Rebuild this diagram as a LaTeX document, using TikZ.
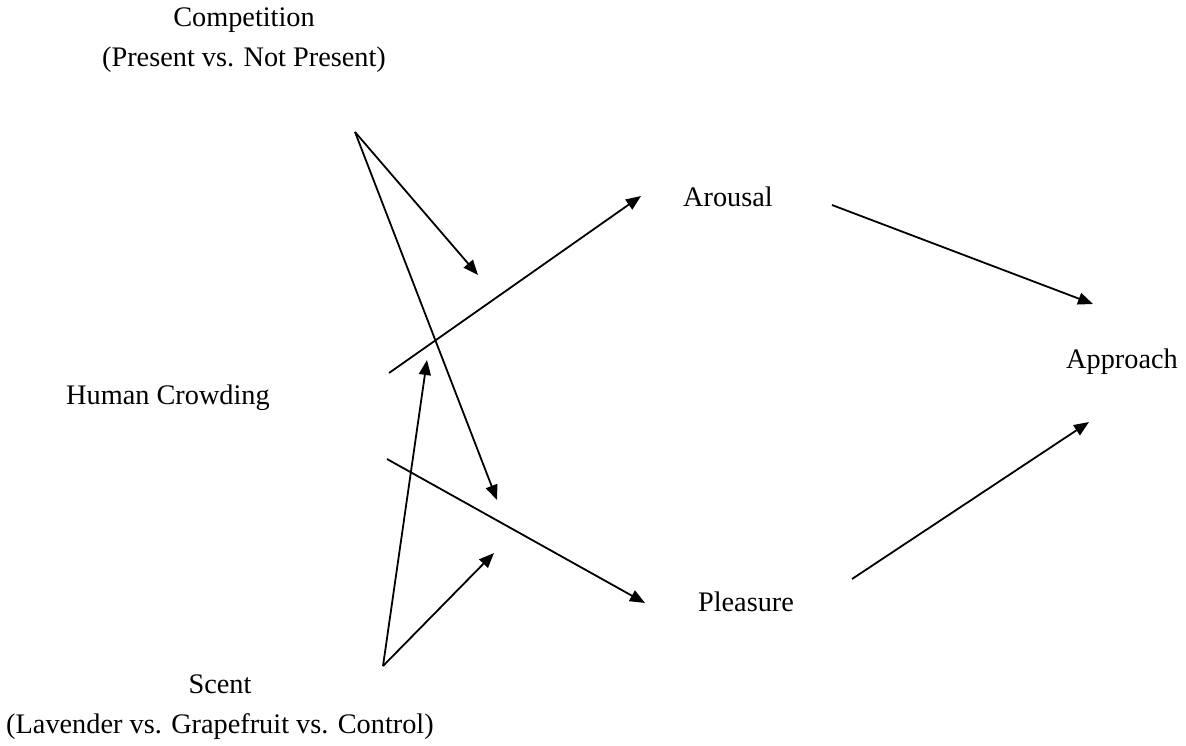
\documentclass[tikz,border=0pt]{standalone}
\usepackage{fontspec}
\setmainfont{Liberation Serif}
\usetikzlibrary{arrows.meta}
\begin{document}
\begin{tikzpicture}[x=1pt,y=-1pt,
  lbl/.style={font=\fontsize{28.3}{40}\selectfont, inner sep=0pt, align=center},
  conn/.style={line width=1.8pt, -{Triangle[length=15pt,width=12pt]}}]
\useasboundingbox (0,0) rectangle (1186,745);
\node[lbl] (comp) at (244,40) {Competition\\(Present vs. Not Present)};
\node[lbl] (crowd) at (168,398) {Human Crowding};
\node[lbl] (scent) at (220,707) {Scent\\(Lavender vs. Grapefruit vs. Control)};
\node[lbl] (arousal) at (728,197) {Arousal};
\node[lbl] (pleasure) at (746,602) {Pleasure};
\node[lbl] (approach) at (1122,362) {Approach};
% free ends
\coordinate (cA) at (355,132);
\coordinate (mod1) at (478,275);
\coordinate (mod2) at (497,500);
\coordinate (hA) at (389,373);
\coordinate (hP) at (387,459);
\coordinate (sA) at (383,666);
\coordinate (mod3) at (427,360);
\coordinate (mod4) at (494,553);
\coordinate (arIn) at (641,196);
\coordinate (arOut) at (832,205);
\coordinate (plIn) at (645,603);
\coordinate (plOut) at (852,579);
\coordinate (apIn1) at (1093,304);
\coordinate (apIn2) at (1089,422);
\draw[conn] (cA) -- (mod1);
\draw[conn] (cA) -- (mod2);
\draw[conn] (hA) -- (arIn);
\draw[conn] (hP) -- (plIn);
\draw[conn] (sA) -- (mod3);
\draw[conn] (sA) -- (mod4);
\draw[conn] (arOut) -- (apIn1);
\draw[conn] (plOut) -- (apIn2);
\end{tikzpicture}
\end{document}
